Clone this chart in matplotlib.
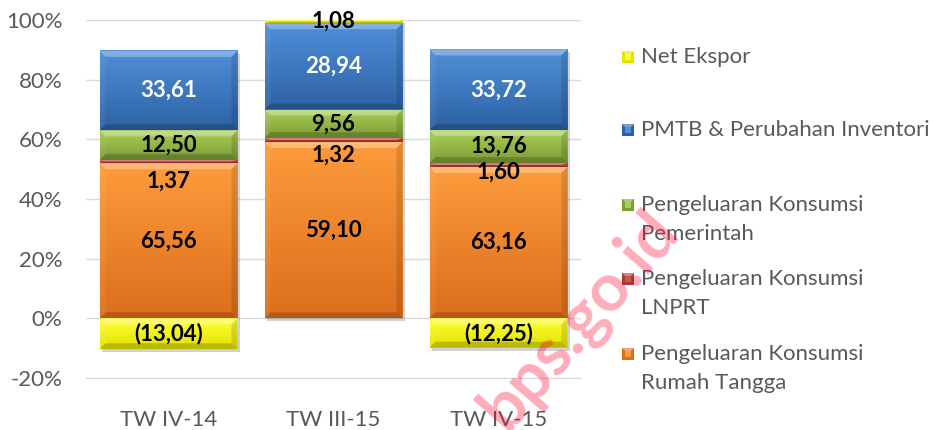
import numpy as np
import matplotlib
matplotlib.use("Agg")
import matplotlib.pyplot as plt
from matplotlib.patches import Rectangle, Polygon
from matplotlib.colors import to_rgb

plt.rcParams['font.family'] = ['Lato', 'DejaVu Sans']

# ---------------- data ----------------
categories = ["TW IV-14", "TW III-15", "TW IV-15"]
series_names = [
    "Pengeluaran Konsumsi\nRumah Tangga",
    "Pengeluaran Konsumsi\nLNPRT",
    "Pengeluaran Konsumsi\nPemerintah",
    "PMTB & Perubahan Inventori",
    "Net Ekspor",
]
rumah_tangga = [65.56, 59.10, 63.16]
lnprt = [1.37, 1.32, 1.60]
pemerintah = [12.50, 9.56, 13.76]
pmtb = [33.61, 28.94, 33.72]
net_ekspor = [-13.04, 1.08, -12.25]
yticks = [-20, 0, 20, 40, 60, 80, 100]

# ---------------- styles ----------------
top_cols = ["#fd9c3c", "#d0504c", "#a9cf58", "#4f8fd8", "#ffff3a"]
bot_cols = ["#dc6e1c", "#a83a36", "#7c9c34", "#2d62a4", "#e2e200"]
txt_cols = ["black", "black", "black", "white", "black"]
lnprt_label_dy = [-6.5, -5.0, -2.4]
FS = 16

W, H = 933, 430
fig = plt.figure(figsize=(W / 100, H / 100), dpi=100)
ax_l, ax_r, ax_t, ax_b = 86, 581, 20, 378
ax = fig.add_axes([ax_l / W, 1 - ax_b / H, (ax_r - ax_l) / W, (ax_b - ax_t) / H])
ax.set_xlim(-0.5, 2.5)
ax.set_ylim(-20, 100)

pxx = (ax_r - ax_l) / 3.0          # px per x unit
pxy = (ax_b - ax_t) / 120.0        # px per y unit

series = [rumah_tangga, lnprt, pemerintah, pmtb, net_ekspor]
data = np.array(series, dtype=float)           # (5, 3)
totals = np.abs(data).sum(axis=0)
pct = data / totals * 100.0

bw = 0.836


def grad_img(c_top, c_bot, n=64):
    a = np.array(to_rgb(c_top))
    b = np.array(to_rgb(c_bot))
    t = np.linspace(0, 1, n)[:, None]
    return (a * (1 - t) + b * t)[:, None, :]


def draw_segment(x0, x1, y0, y1, ctop, cbot, z=3):
    ax.imshow(grad_img(ctop, cbot), extent=[x0, x1, y0, y1], aspect='auto',
              interpolation='bilinear', zorder=z)
    bx = 6 / pxx
    byp = min(6, (y1 - y0) * pxy / 2.0)
    by = byp / pxy
    top = Polygon([[x0, y1], [x1, y1], [x1 - bx, y1 - by], [x0 + bx, y1 - by]],
                  closed=True, facecolor='white', alpha=0.3, lw=0, zorder=z + 0.1)
    bot = Polygon([[x0, y0], [x1, y0], [x1 - bx, y0 + by], [x0 + bx, y0 + by]],
                  closed=True, facecolor='black', alpha=0.18, lw=0, zorder=z + 0.1)
    lft = Polygon([[x0, y0], [x0, y1], [x0 + bx, y1 - by], [x0 + bx, y0 + by]],
                  closed=True, facecolor='white', alpha=0.06, lw=0, zorder=z + 0.1)
    rgt = Polygon([[x1, y0], [x1, y1], [x1 - bx, y1 - by], [x1 - bx, y0 + by]],
                  closed=True, facecolor='black', alpha=0.12, lw=0, zorder=z + 0.1)
    for p in (top, bot, lft, rgt):
        ax.add_patch(p)


xs = np.arange(len(categories))
for j, x in enumerate(xs):
    x0, x1 = x - bw / 2, x + bw / 2
    pos_base, neg_base = 0.0, 0.0
    ymin, ymax = 0.0, 0.0
    for i in range(len(series)):
        v = pct[i, j]
        if v >= 0:
            y0, y1 = pos_base, pos_base + v
            pos_base = y1
        else:
            y0, y1 = neg_base + v, neg_base
            neg_base = y0
        ymin, ymax = min(ymin, y0), max(ymax, y1)
        draw_segment(x0, x1, y0, y1, top_cols[i], bot_cols[i])
        raw = data[i, j]
        lab = f"({abs(raw):.2f})" if raw < 0 else f"{raw:.2f}"
        lab = lab.replace('.', ',')
        yc = (y0 + y1) / 2
        if i == 1:
            yc += lnprt_label_dy[j]
        ax.text(x, yc, lab, ha='center', va='center', fontsize=FS,
                fontweight='bold', color=txt_cols[i], zorder=6)
    ax.add_patch(Rectangle((x0 + 2.5 / pxx, ymin - 3 / pxy), x1 - x0, ymax - ymin,
                           facecolor='#808080', alpha=0.35, lw=0, zorder=2.5))

ax.set_xlim(-0.5, 2.5)
ax.set_ylim(-20, 100)
ax.set_yticks(yticks)
ax.set_yticklabels([f"{t}%" for t in yticks])
ax.set_xticks(xs)
ax.set_xticklabels(categories)
ax.grid(axis='y', color='#d9d9d9', lw=1, zorder=0)
ax.set_axisbelow(True)
for s in ['top', 'right', 'left']:
    ax.spines[s].set_visible(False)
ax.spines['bottom'].set_color('#d9d9d9')
ax.tick_params(axis='both', length=0, labelsize=FS, colors='#595959')
ax.tick_params(axis='y', pad=17)
ax.tick_params(axis='x', pad=23)

# ---------------- legend (manual) ----------------
leg_y = [57, 130, 205, 279, 354]
order = [4, 3, 2, 1, 0]
fx = lambda px: px / W
fy = lambda py: 1 - py / H
for k, i in enumerate(order):
    yc = leg_y[k]
    mx0, mx1 = 622, 634
    my0, my1 = yc - 6, yc + 6
    fig.patches.append(Rectangle((fx(mx0), fy(my1)), fx(mx1) - fx(mx0), fy(my0) - fy(my1),
                                 transform=fig.transFigure, facecolor=bot_cols[i],
                                 edgecolor='none', zorder=3))
    fig.patches.append(Polygon([[fx(mx0), fy(my0)], [fx(mx1), fy(my0)], [fx(mx1 - 3), fy(my0 + 3)],
                                [fx(mx0 + 3), fy(my0 + 3)]], closed=True,
                               transform=fig.transFigure, facecolor='white', alpha=0.4,
                               lw=0, zorder=4))
    fig.patches.append(Rectangle((fx(mx0 + 3), fy(my1 - 3)), fx(mx1 - 3) - fx(mx0 + 3),
                                 fy(my0 + 3) - fy(my1 - 3), transform=fig.transFigure,
                                 facecolor=top_cols[i], lw=0, zorder=4))
    parts = series_names[i].split('\n')
    fig.text(641 / W, 1 - yc / H, parts[0], ha='left', va='center',
             fontsize=FS, color='#595959')
    if len(parts) > 1:
        fig.text(641 / W, 1 - (yc + 29) / H, parts[1], ha='left', va='center',
                 fontsize=FS, color='#595959')

# watermark
fig.text(580 / W, 1 - 320 / H, "bps.go.id", rotation=49, ha='center', va='center',
         fontsize=48, fontweight='bold', color='#ff0030', alpha=0.33, zorder=10)

fig.savefig("out.png", dpi=100)
